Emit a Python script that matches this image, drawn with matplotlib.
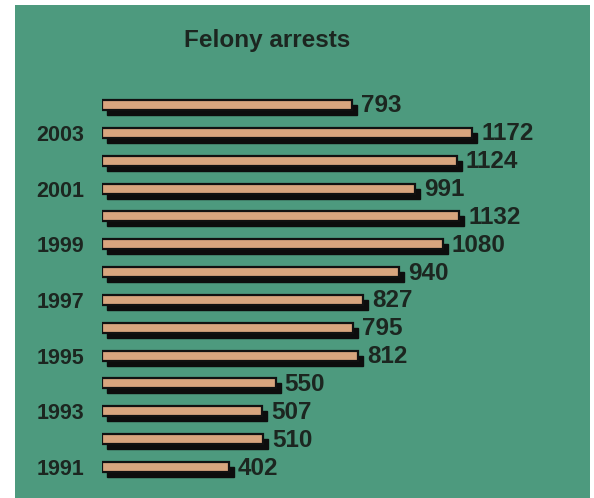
import matplotlib
matplotlib.use("Agg")
import matplotlib.pyplot as plt
from matplotlib.patches import Rectangle
from matplotlib.transforms import ScaledTranslation

years = [1991, 1992, 1993, 1994, 1995, 1996, 1997, 1998, 1999, 2000, 2001, 2002, 2003, 2004]
arrests = [402, 510, 507, 550, 812, 795, 827, 940, 1080, 1132, 991, 1124, 1172, 793]
year_labels = ["1991", "", "1993", "", "1995", "", "1997", "", "1999", "", "2001", "", "2003", ""]
title = "Felony arrests"

W, H = 594, 498
DPI = 100
fig = plt.figure(figsize=(W / DPI, H / DPI), dpi=DPI, facecolor="white")

GREEN = "#4d9a7e"
TAN = "#d8a57e"
TEXT = "#1c2620"
FONT = "Liberation Sans"

# green panel
fig.patches.append(Rectangle((15 / W, 0), (590 - 15) / W, (498 - 5) / H,
                             transform=fig.transFigure, facecolor=GREEN,
                             edgecolor="none", zorder=-5))

fig.text(267 / W, 1 - 40 / H, title, ha="center", va="center",
         fontsize=17.5, fontweight="bold", color=TEXT, family=FONT)

# axes: px x from 102 to 560; px y from 80 to 490
ax_left, ax_right = 102, 560
ax_top, ax_bot = 80, 490
ax = fig.add_axes([ax_left / W, 1 - ax_bot / H, (ax_right - ax_left) / W, (ax_bot - ax_top) / H])
ax.patch.set_visible(False)
scale = 0.3157  # px per unit
ax.set_xlim(0, (ax_right - ax_left) / scale)

y_top_px, y_bot_px = 105, 467
step = (y_bot_px - y_top_px) / 13.0
n = len(years)
hi = 13 + (y_top_px - ax_top) / step
lo = 0 - (ax_bot - y_bot_px) / step
ax.set_ylim(lo, hi)

pos = list(range(n))
bh = 10 / step

shadow = ax.barh(pos, arrests, height=bh, left=0, color="#0d0d0d", edgecolor="#0d0d0d",
                 linewidth=1, zorder=2)
off = ScaledTranslation(5 / DPI, -5 / DPI, fig.dpi_scale_trans)
for p in shadow:
    p.set_transform(ax.transData + off)

bars = ax.barh(pos, arrests, height=bh, left=0, color=TAN, edgecolor="#111111",
               linewidth=1.6, zorder=3)

lab_off = ScaledTranslation(9 / DPI, -1 / DPI, fig.dpi_scale_trans)
for y, v in zip(pos, arrests):
    ax.text(v, y, str(v), ha="left", va="center", fontsize=17.5, fontweight="bold",
            color=TEXT, family=FONT, transform=ax.transData + lab_off, zorder=4)

ax.set_yticks(pos)
ax.set_yticklabels(year_labels, fontsize=15.5, fontweight="bold", color=TEXT, family=FONT)
ax.tick_params(axis="y", length=0, pad=13)
ax.set_xticks([])
for s in ax.spines.values():
    s.set_visible(False)

fig.savefig("out.png", dpi=DPI, facecolor="white")
